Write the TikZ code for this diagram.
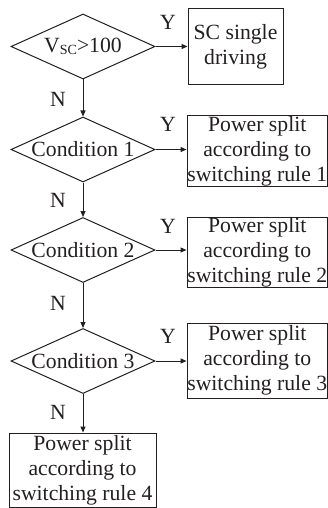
\documentclass[tikz,border=0pt]{standalone}
\usepackage{fontspec}
\setmainfont{Liberation Serif}
\usetikzlibrary{shapes.geometric,arrows.meta}
\definecolor{ink}{RGB}{35,31,32}
\begin{document}
\begin{tikzpicture}[x=1pt,y=-1pt,
  every node/.style={text=ink},
  txt/.style={font=\fontsize{21.7}{25}\selectfont},
  dia/.style={draw=ink,line width=1pt,shape=diamond,inner sep=0pt,minimum width=144pt,minimum height=65pt},
  box/.style={draw=ink,line width=1pt,rectangle,inner sep=0pt,align=center,font=\fontsize{21.7}{25}\selectfont},
  arr/.style={draw=ink,line width=1pt,-{Triangle[length=6pt,width=5pt]}},
  lab/.style={font=\fontsize{21.7}{25}\selectfont,inner sep=0pt}]
\useasboundingbox (0,0) rectangle (328,508);
% diamonds
\node[dia,label={[txt]center:V\raisebox{-2.5pt}{\fontsize{14}{14}\selectfont SC}>100}] (d0) at (83,46.5) {};
\node[dia,label={[txt]center:Condition 1}] (d1) at (83,149.5) {};
\node[dia,label={[txt]center:Condition 2}] (d2) at (83,250) {};
\node[dia,label={[txt]center:Condition 3}] (d3) at (83,361) {};
% boxes
\node[box,minimum width=95pt,minimum height=76pt] (b0) at (235.5,47) {SC single\\driving};
\node[box,minimum width=140.5pt,minimum height=70pt] (b1) at (257.25,151) {Power split\\according to\\switching rule 1};
\node[box,minimum width=140.5pt,minimum height=69pt] (b2) at (257.25,252.5) {Power split\\according to\\switching rule 2};
\node[box,minimum width=140.5pt,minimum height=75pt] (b3) at (257.25,360.5) {Power split\\according to\\switching rule 3};
\node[box,minimum width=147pt,minimum height=74.5pt] (b4) at (82.5,470.25) {Power split\\according to\\switching rule 4};
% connectors
\draw[arr] (d0.east) -- (d0.east -| b0.west);
\draw[arr] (d1.east) -- (d1.east -| b1.west);
\draw[arr] (d2.east) -- (d2.east -| b2.west);
\draw[arr] (d3.east) -- (d3.east -| b3.west);
\draw[arr] (d0.south) -- (d1.north);
\draw[arr] (d1.south) -- (d2.north);
\draw[arr] (d2.south) -- (d3.north);
\draw[arr] (d3.south) -- (d3.south |- b4.north);
% labels
\node[lab] (y0) at (168,22) {Y};
\node[lab] (y1) at (168,124) {Y};
\node[lab] (y2) at (168,226) {Y};
\node[lab] (y3) at (168,336) {Y};
\node[lab] (n0) at (58,99) {N};
\node[lab] (n1) at (58,200) {N};
\node[lab] (n2) at (58,303) {N};
\node[lab] (n3) at (58,412) {N};
\end{tikzpicture}
\end{document}
